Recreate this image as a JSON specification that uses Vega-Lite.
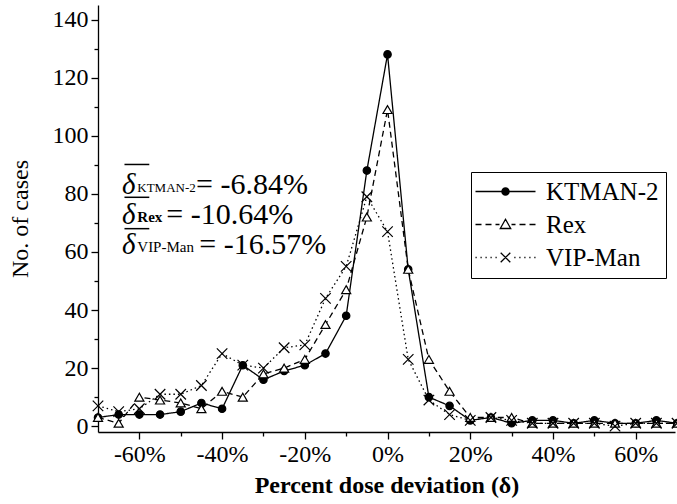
{
  "$schema": "https://vega.github.io/schema/vega-lite/v6.json",
  "width": 577,
  "height": 427,
  "autosize": {"type": "none"},
  "padding": {"left": 98, "top": 5, "right": 2, "bottom": 72},
  "background": "white",
  "config": {
    "view": {"stroke": null},
    "font": "Liberation Serif, Times New Roman, serif",
    "axis": {
      "labelFont": "Liberation Serif, Times New Roman, serif",
      "titleFont": "Liberation Serif, Times New Roman, serif",
      "labelColor": "black",
      "titleColor": "black",
      "domainColor": "black",
      "tickColor": "black",
      "grid": false,
      "domainWidth": 1.3,
      "tickWidth": 1.3
    },
    "legend": {"labelFont": "Liberation Serif, Times New Roman, serif"},
    "text": {"font": "Liberation Serif, Times New Roman, serif"}
  },
  "datasets": {
    "cases": [
      {"pct": -70, "series": "KTMAN-2", "n": 3}, {"pct": -65, "series": "KTMAN-2", "n": 4}, {"pct": -60, "series": "KTMAN-2", "n": 4},
      {"pct": -55, "series": "KTMAN-2", "n": 4}, {"pct": -50, "series": "KTMAN-2", "n": 5}, {"pct": -45, "series": "KTMAN-2", "n": 8},
      {"pct": -40, "series": "KTMAN-2", "n": 6}, {"pct": -35, "series": "KTMAN-2", "n": 21}, {"pct": -30, "series": "KTMAN-2", "n": 16},
      {"pct": -25, "series": "KTMAN-2", "n": 19}, {"pct": -20, "series": "KTMAN-2", "n": 21}, {"pct": -15, "series": "KTMAN-2", "n": 25},
      {"pct": -10, "series": "KTMAN-2", "n": 38}, {"pct": -5, "series": "KTMAN-2", "n": 88}, {"pct": 0, "series": "KTMAN-2", "n": 128},
      {"pct": 5, "series": "KTMAN-2", "n": 54}, {"pct": 10, "series": "KTMAN-2", "n": 10}, {"pct": 15, "series": "KTMAN-2", "n": 7},
      {"pct": 20, "series": "KTMAN-2", "n": 2}, {"pct": 25, "series": "KTMAN-2", "n": 3}, {"pct": 30, "series": "KTMAN-2", "n": 1},
      {"pct": 35, "series": "KTMAN-2", "n": 2}, {"pct": 40, "series": "KTMAN-2", "n": 2}, {"pct": 45, "series": "KTMAN-2", "n": 1},
      {"pct": 50, "series": "KTMAN-2", "n": 2}, {"pct": 55, "series": "KTMAN-2", "n": 1}, {"pct": 60, "series": "KTMAN-2", "n": 1},
      {"pct": 65, "series": "KTMAN-2", "n": 2}, {"pct": 70, "series": "KTMAN-2", "n": 1},
      {"pct": -70, "series": "Rex", "n": 3}, {"pct": -65, "series": "Rex", "n": 1}, {"pct": -60, "series": "Rex", "n": 10},
      {"pct": -55, "series": "Rex", "n": 9}, {"pct": -50, "series": "Rex", "n": 8}, {"pct": -45, "series": "Rex", "n": 6},
      {"pct": -40, "series": "Rex", "n": 12}, {"pct": -35, "series": "Rex", "n": 10}, {"pct": -30, "series": "Rex", "n": 18},
      {"pct": -25, "series": "Rex", "n": 20}, {"pct": -20, "series": "Rex", "n": 23}, {"pct": -15, "series": "Rex", "n": 35},
      {"pct": -10, "series": "Rex", "n": 47}, {"pct": -5, "series": "Rex", "n": 72}, {"pct": 0, "series": "Rex", "n": 109},
      {"pct": 5, "series": "Rex", "n": 54}, {"pct": 10, "series": "Rex", "n": 23}, {"pct": 15, "series": "Rex", "n": 12},
      {"pct": 20, "series": "Rex", "n": 3}, {"pct": 25, "series": "Rex", "n": 3}, {"pct": 30, "series": "Rex", "n": 3},
      {"pct": 35, "series": "Rex", "n": 1}, {"pct": 40, "series": "Rex", "n": 1}, {"pct": 45, "series": "Rex", "n": 1},
      {"pct": 50, "series": "Rex", "n": 1}, {"pct": 55, "series": "Rex", "n": 1}, {"pct": 60, "series": "Rex", "n": 1},
      {"pct": 65, "series": "Rex", "n": 1}, {"pct": 70, "series": "Rex", "n": 1},
      {"pct": -70, "series": "VIP-Man", "n": 7}, {"pct": -65, "series": "VIP-Man", "n": 5}, {"pct": -60, "series": "VIP-Man", "n": 6},
      {"pct": -55, "series": "VIP-Man", "n": 11}, {"pct": -50, "series": "VIP-Man", "n": 11}, {"pct": -45, "series": "VIP-Man", "n": 14},
      {"pct": -40, "series": "VIP-Man", "n": 25}, {"pct": -35, "series": "VIP-Man", "n": 21}, {"pct": -30, "series": "VIP-Man", "n": 20},
      {"pct": -25, "series": "VIP-Man", "n": 27}, {"pct": -20, "series": "VIP-Man", "n": 28}, {"pct": -15, "series": "VIP-Man", "n": 44},
      {"pct": -10, "series": "VIP-Man", "n": 55}, {"pct": -5, "series": "VIP-Man", "n": 79}, {"pct": 0, "series": "VIP-Man", "n": 67},
      {"pct": 5, "series": "VIP-Man", "n": 23}, {"pct": 10, "series": "VIP-Man", "n": 9}, {"pct": 15, "series": "VIP-Man", "n": 4},
      {"pct": 20, "series": "VIP-Man", "n": 2}, {"pct": 25, "series": "VIP-Man", "n": 3}, {"pct": 30, "series": "VIP-Man", "n": 2},
      {"pct": 35, "series": "VIP-Man", "n": 1}, {"pct": 40, "series": "VIP-Man", "n": 1}, {"pct": 45, "series": "VIP-Man", "n": 1},
      {"pct": 50, "series": "VIP-Man", "n": 1}, {"pct": 55, "series": "VIP-Man", "n": 0}, {"pct": 60, "series": "VIP-Man", "n": 1},
      {"pct": 65, "series": "VIP-Man", "n": 1}, {"pct": 70, "series": "VIP-Man", "n": 1}
    ]
  },
  "layer": [
    {
      "data": {"name": "cases"},
      "mark": {"type": "line", "stroke": "black", "strokeWidth": 1.3},
      "encoding": {
        "x": {"field": "pct", "type": "quantitative", "scale": {"domain": [-70, 69.5], "nice": false, "zero": false},
          "axis": {"orient": "bottom", "values": [-50, -30, -10, 10, 30, 50], "labels": false, "tickSize": 4, "domain": false, "title": null}},
        "y": {"field": "n", "type": "quantitative", "scale": {"domain": [-2, 145], "nice": false, "zero": false},
          "axis": {"orient": "left", "values": [10, 30, 50, 70, 90, 110, 130], "labels": false, "tickSize": 4, "domain": false, "title": null}},
        "strokeDash": {"field": "series", "type": "nominal",
          "scale": {"domain": ["KTMAN-2", "Rex", "VIP-Man"], "range": [[1, 0], [6, 4], [1.5, 3]]}, "legend": null}
      }
    },
    {
      "data": {"name": "cases"},
      "mark": {"type": "point", "stroke": "black", "strokeWidth": 1.2, "opacity": 1},
      "encoding": {
        "x": {"field": "pct", "type": "quantitative",
          "axis": {"orient": "bottom", "values": [-60, -40, -20, 0, 20, 40, 60], "labelExpr": "datum.value + '%'",
            "tickSize": 7, "labelFont": "Liberation Serif, Times New Roman, serif", "labelFontSize": 24, "labelPadding": 3,
            "title": "Percent dose deviation (δ)", "titleFont": "Liberation Serif, Times New Roman, serif",
            "titleFontSize": 24, "titleFontWeight": "bold", "titlePadding": 7}},
        "y": {"field": "n", "type": "quantitative",
          "axis": {"orient": "left", "values": [0, 20, 40, 60, 80, 100, 120, 140],
            "tickSize": 7, "labelFont": "Liberation Serif, Times New Roman, serif", "labelFontSize": 24, "labelPadding": 3,
            "title": "No. of cases", "titleFont": "Liberation Serif, Times New Roman, serif",
            "titleFontSize": 24, "titleFontWeight": "normal", "titlePadding": 20}},
        "shape": {"field": "series", "type": "nominal",
          "scale": {"domain": ["KTMAN-2", "Rex", "VIP-Man"], "range": ["circle", "triangle-up", "M-1,-1L1,1M-1,1L1,-1"]}, "legend": null},
        "fill": {"field": "series", "type": "nominal",
          "scale": {"domain": ["KTMAN-2", "Rex", "VIP-Man"], "range": ["black", "white", "transparent"]}, "legend": null},
        "size": {"field": "series", "type": "nominal",
          "scale": {"domain": ["KTMAN-2", "Rex", "VIP-Man"], "range": [55, 110, 90]}, "legend": null}
      }
    },
    {
      "data": {"name": "cases"},
      "mark": {"type": "point", "opacity": 0, "size": 16},
      "encoding": {
        "x": {"field": "pct", "type": "quantitative", "axis": null},
        "y": {"field": "n", "type": "quantitative", "axis": null},
        "shape": {"field": "series", "type": "nominal",
          "scale": {"domain": ["KTMAN-2", "Rex", "VIP-Man"],
            "range": [
              "M-7.5,0L22.5,0M5.7,0A1.8,1.8 0 1,0 9.3,0A1.8,1.8 0 1,0 5.7,0M6.25,0A1.25,1.25 0 1,0 8.75,0A1.25,1.25 0 1,0 6.25,0M6.8,0A0.7,0.7 0 1,0 8.2,0A0.7,0.7 0 1,0 6.8,0M7.25,0A0.25,0.25 0 1,0 7.75,0A0.25,0.25 0 1,0 7.25,0",
              "M-7.5,0L-4.5,0M-2.5,0L0.5,0M2.5,0L4.5,0M7.5,-2.6L10.1,2L4.9,2ZM10.5,0L12.5,0M14.5,0L17.5,0M19.5,0L22.5,0",
              "M-7.5,0L-6.9,0M-5,0L-4.4,0M-2.5,0L-1.9,0M0,0L0.6,0M2.5,0L3.1,0M5.1,-2.4L9.9,2.4M5.1,2.4L9.9,-2.4M11.9,0L12.5,0M14.4,0L15,0M16.9,0L17.5,0M19.4,0L20,0M21.9,0L22.5,0"
            ]},
          "legend": {
            "orient": "none", "legendX": 373, "legendY": 167, "title": null,
            "strokeColor": "black", "fillColor": "white", "padding": 7,
            "labelFont": "Liberation Serif, Times New Roman, serif", "labelFontSize": 25, "labelColor": "black",
            "labelOffset": 43, "rowPadding": 7, "symbolSize": 16, "symbolOpacity": 1,
            "symbolStrokeColor": "black", "symbolStrokeWidth": 1.3
          }
        }
      }
    },
    {
      "data": {"values": [{}]},
      "mark": {"type": "rule", "color": "black", "strokeWidth": 1.5},
      "encoding": {"x": {"datum": -63.6, "axis": null}, "x2": {"datum": -57.6}, "y": {"datum": 90.1, "axis": null}}
    },
    {
      "data": {"values": [{}]},
      "mark": {"type": "rule", "color": "black", "strokeWidth": 1.5},
      "encoding": {"x": {"datum": -63.6, "axis": null}, "x2": {"datum": -57.6}, "y": {"datum": 78.8, "axis": null}}
    },
    {
      "data": {"values": [{}]},
      "mark": {"type": "rule", "color": "black", "strokeWidth": 1.5},
      "encoding": {"x": {"datum": -63.6, "axis": null}, "x2": {"datum": -57.6}, "y": {"datum": 68.0, "axis": null}}
    },
    {
      "data": {"values": [{}]},
      "mark": {"type": "text", "text": "δ", "font": "Liberation Serif, Times New Roman, serif", "fontSize": 29, "fontStyle": "italic", "align": "left", "baseline": "alphabetic", "color": "black"},
      "encoding": {"x": {"datum": -64.2, "axis": null}, "y": {"datum": 79.8, "axis": null}}
    },
    {
      "data": {"values": [{}]},
      "mark": {"type": "text", "text": "δ", "font": "Liberation Serif, Times New Roman, serif", "fontSize": 29, "fontStyle": "italic", "align": "left", "baseline": "alphabetic", "color": "black"},
      "encoding": {"x": {"datum": -64.2, "axis": null}, "y": {"datum": 69.5, "axis": null}}
    },
    {
      "data": {"values": [{}]},
      "mark": {"type": "text", "text": "δ", "font": "Liberation Serif, Times New Roman, serif", "fontSize": 29, "fontStyle": "italic", "align": "left", "baseline": "alphabetic", "color": "black"},
      "encoding": {"x": {"datum": -64.2, "axis": null}, "y": {"datum": 59.2, "axis": null}}
    },
    {
      "data": {"values": [{}]},
      "mark": {"type": "text", "text": "KTMAN-2", "font": "Liberation Serif, Times New Roman, serif", "fontSize": 13, "align": "left", "baseline": "alphabetic", "color": "black"},
      "encoding": {"x": {"datum": -60.5, "axis": null}, "y": {"datum": 80.5, "axis": null}}
    },
    {
      "data": {"values": [{}]},
      "mark": {"type": "text", "text": "Rex", "font": "Liberation Serif, Times New Roman, serif", "fontSize": 15, "fontWeight": "bold", "align": "left", "baseline": "alphabetic", "color": "black"},
      "encoding": {"x": {"datum": -60.5, "axis": null}, "y": {"datum": 70.2, "axis": null}}
    },
    {
      "data": {"values": [{}]},
      "mark": {"type": "text", "text": "VIP-Man", "font": "Liberation Serif, Times New Roman, serif", "fontSize": 15, "align": "left", "baseline": "alphabetic", "color": "black"},
      "encoding": {"x": {"datum": -60.5, "axis": null}, "y": {"datum": 59.9, "axis": null}}
    },
    {
      "data": {"values": [{}]},
      "mark": {"type": "text", "text": "= -6.84%", "font": "Liberation Serif, Times New Roman, serif", "fontSize": 30, "align": "left", "baseline": "alphabetic", "color": "black"},
      "encoding": {"x": {"datum": -46.3, "axis": null}, "y": {"datum": 79.8, "axis": null}}
    },
    {
      "data": {"values": [{}]},
      "mark": {"type": "text", "text": "= -10.64%", "font": "Liberation Serif, Times New Roman, serif", "fontSize": 30, "align": "left", "baseline": "alphabetic", "color": "black"},
      "encoding": {"x": {"datum": -53.5, "axis": null}, "y": {"datum": 69.5, "axis": null}}
    },
    {
      "data": {"values": [{}]},
      "mark": {"type": "text", "text": "= -16.57%", "font": "Liberation Serif, Times New Roman, serif", "fontSize": 30, "align": "left", "baseline": "alphabetic", "color": "black"},
      "encoding": {"x": {"datum": -45.5, "axis": null}, "y": {"datum": 59.2, "axis": null}}
    }
  ],
  "resolve": {
    "scale": {"shape": "independent"},
    "axis": {"x": "independent", "y": "independent"}
  }
}
